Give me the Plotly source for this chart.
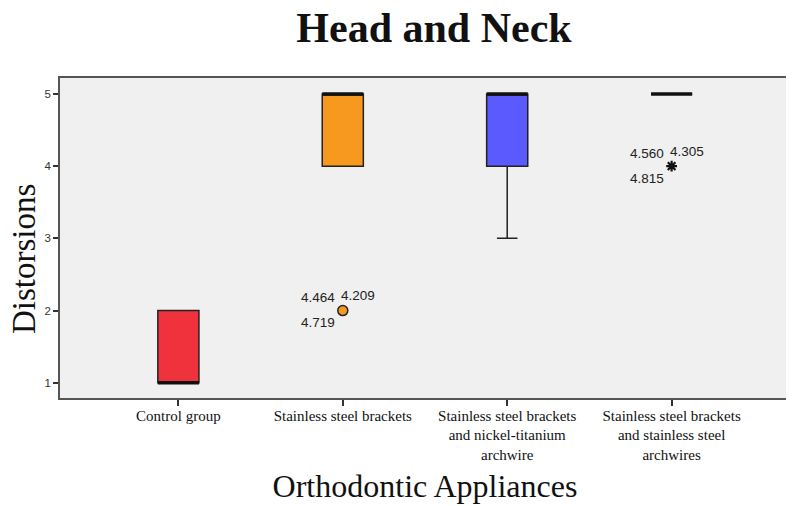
import plotly.graph_objects as go

categories = ["Control group", "Stainless steel brackets",
              "Stainless steel brackets<br>and nickel-titanium<br>archwire",
              "Stainless steel brackets<br>and stainless steel<br>archwires"]
q1 = [1, 4, 4, 5]
median = [1, 5, 5, 5]
q3 = [2, 5, 5, 5]
lowerfence = [1, 4, 3, 5]
upperfence = [2, 5, 5, 5]
box_colors = ["#F0323C", "#F7991E", "#5A5AFF", "#F0F0F0"]

outlier_x = [1]
outlier_y = [2]
outlier_ids = [["4.464", "4.209", "4.719"]]
extreme_x = [3]
extreme_y = [4]
extreme_ids = [["4.560", "4.305", "4.815"]]

yticks = [1, 2, 3, 4, 5]
y_title = "Distorsions"

fig = go.Figure()
for i in range(len(categories)):
    fig.add_trace(go.Box(
        x=[i], q1=[q1[i]], median=[median[i]], q3=[q3[i]],
        lowerfence=[lowerfence[i]], upperfence=[upperfence[i]],
        width=0.25, whiskerwidth=0.5,
        fillcolor=box_colors[i], line=dict(color="#222222", width=1.5),
        showlegend=False, hoverinfo="skip"))
    fig.add_trace(go.Scatter(
        x=[i - 0.125, i + 0.125], y=[median[i], median[i]], mode="lines",
        line=dict(color="#111111", width=3.5), showlegend=False, hoverinfo="skip"))

fig.add_trace(go.Scatter(
    x=outlier_x, y=outlier_y, mode="markers",
    marker=dict(symbol="circle", size=10, color="#F7991E", line=dict(color="#222222", width=1.5)),
    showlegend=False))
fig.add_trace(go.Scatter(
    x=extreme_x, y=extreme_y, mode="markers",
    marker=dict(symbol="asterisk", size=9, color="#111111", line=dict(color="#111111", width=2.2)),
    showlegend=False))

lab_font = dict(family="Liberation Sans, Arial", size=13.5, color="#222222")
# label offsets: (xanchor, xshift, yshift)
offsets = [("right", -6, 13), ("left", -4, 15), ("right", -6, -12)]
for xs, ys, ids in [(outlier_x, outlier_y, outlier_ids), (extreme_x, extreme_y, extreme_ids)]:
    for x, y, labs in zip(xs, ys, ids):
        for lab, (anc, dx, dy) in zip(labs, offsets):
            fig.add_annotation(x=x, y=y, text=lab, showarrow=False, xanchor=anc,
                               yanchor="middle", xshift=dx, yshift=dy, font=lab_font)

# y-axis title (placed as a rotated annotation to sit like the reference)
fig.add_annotation(xref="paper", yref="paper", x=0, y=0.434, xanchor="center", yanchor="middle",
                   xshift=-36, text=y_title, textangle=-90, showarrow=False,
                   font=dict(family="Liberation Serif, Times New Roman", size=33, color="#111111"))

# page body adds an 8px margin, so the figure is sized 8px smaller
fig.update_layout(
    width=786, height=498,
    margin=dict(l=52, r=4, t=70, b=108),
    paper_bgcolor="white", plot_bgcolor="#F0F0F0",
    title=dict(text="<b>Head and Neck</b>", x=0.542, xanchor="center", y=0.962, yanchor="middle",
               font=dict(family="Liberation Serif, Times New Roman", size=42, color="#111111")),
)
fig.update_xaxes(
    range=[-0.72, 3.72], tickvals=list(range(len(categories))), ticktext=categories,
    ticks="outside", ticklen=6, tickcolor="#333333", tickwidth=1.5,
    showgrid=False, zeroline=False, automargin=False, ticklabelstandoff=-3,
    showline=True, linecolor="#555555", linewidth=1.5, mirror=True,
    tickfont=dict(family="Liberation Serif, Times New Roman", size=15, color="#111111"),
    title=dict(text="Orthodontic Appliances", standoff=13,
               font=dict(family="Liberation Serif, Times New Roman", size=32, color="#111111")))
fig.update_yaxes(
    range=[0.79, 5.22], tickvals=yticks,
    ticks="outside", ticklen=5, tickcolor="#333333", tickwidth=1.5,
    showgrid=False, zeroline=False, automargin=False,
    showline=True, linecolor="#555555", linewidth=1.5, mirror=True,
    tickfont=dict(family="Liberation Sans, Arial", size=11.5, color="#333333"))

fig.write_html("out.html")
